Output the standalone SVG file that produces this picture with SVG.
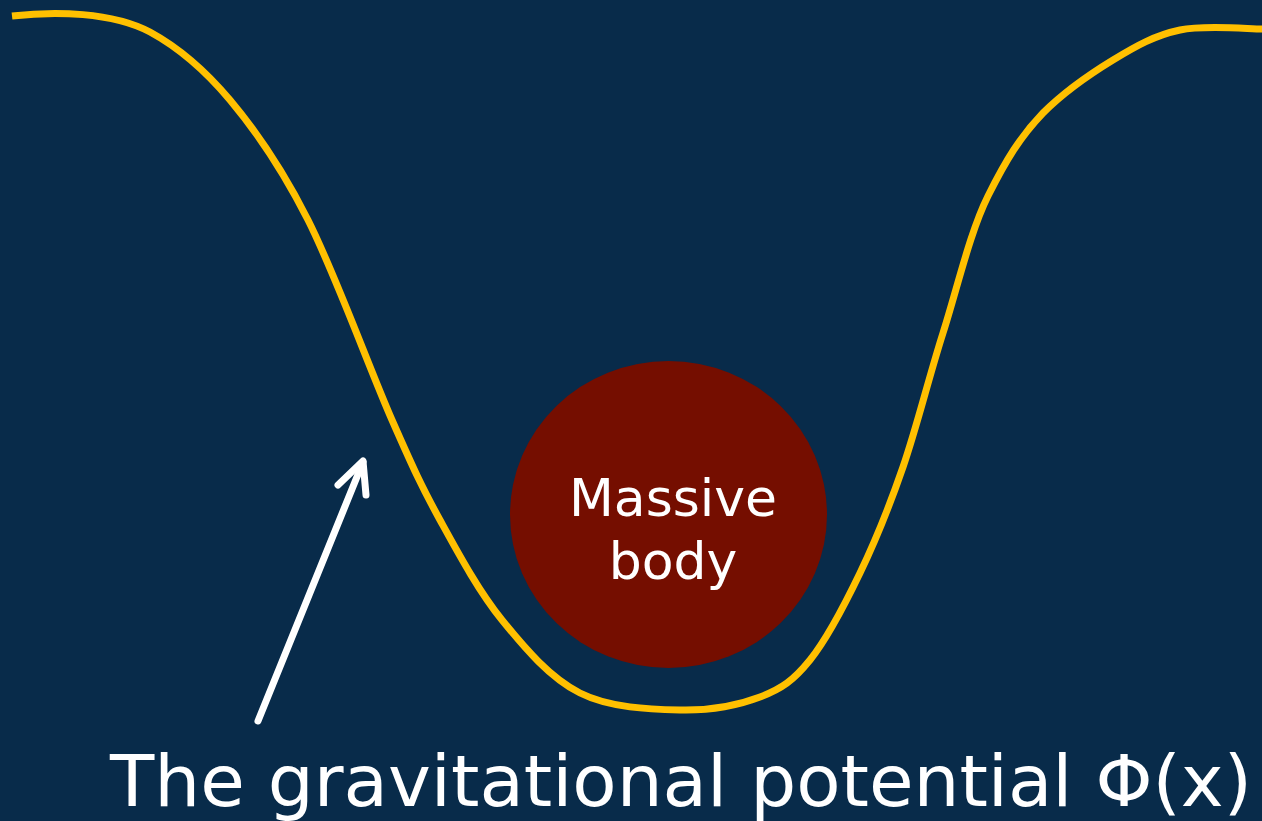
<svg xmlns="http://www.w3.org/2000/svg" width="1262" height="821" viewBox="0 0 1262 821">
<style>
.bg{fill:#082B4A}
.curve{fill:none;stroke:#FFC000;stroke-width:7;stroke-linecap:butt;stroke-linejoin:round}
.arrow{fill:none;stroke:#FFFFFF;stroke-width:7;stroke-linecap:round;stroke-linejoin:round}
.body{fill:#750E00}
.lbl{font-family:"DejaVu Sans",Verdana,sans-serif;fill:#FFFFFF}
</style>
<rect class="bg" x="0" y="0" width="1262" height="821"/>
<g id="potential-curve">
<path class="curve" d="M12,16 C55,11 112,12 150,32 C176.7,46.5 203.7,68.7 230,100 C256.3,131.3 281,166.7 308,220 C335,273.3 370,370 392,420 C414,470 421.7,486.7 440,520 C458.3,553.3 478.7,591.2 502,620 C525.3,648.8 550.3,678 580,693 C609.7,708 650,709.3 680,710 C710,710.7 738.3,705.3 760,697 C781.7,688.7 793.3,680.7 810,660 C826.7,639.3 844.5,605.2 860,573 C875.5,540.8 889.2,507 903,467 C916.8,427 928.8,377.5 943,333 C957.2,288.5 970,232 988,196 C1006,160 1020,137 1043,113 C1066,90 1090,74 1113,60 C1136.3,45.8 1155.2,35.2 1180,30 C1204.8,24.8 1248.3,29 1262,29"/>
</g>
<g id="massive-body">
<ellipse class="body" cx="668.5" cy="514.5" rx="158.5" ry="153.5"/>
<text class="lbl" x="673" y="516" font-size="52" text-anchor="middle">Massive</text>
<text class="lbl" x="673" y="579" font-size="52" text-anchor="middle">body</text>
</g>
<g id="connectors">
<path class="arrow" d="M258,721 L363,462"/>
<path class="arrow" d="M338,485 L363,461 L366,495"/>
</g>
<g id="caption">
<text class="lbl" x="110" y="806" font-size="72" textLength="1142" lengthAdjust="spacingAndGlyphs">The gravitational potential Φ(x)</text>
</g>
</svg>
